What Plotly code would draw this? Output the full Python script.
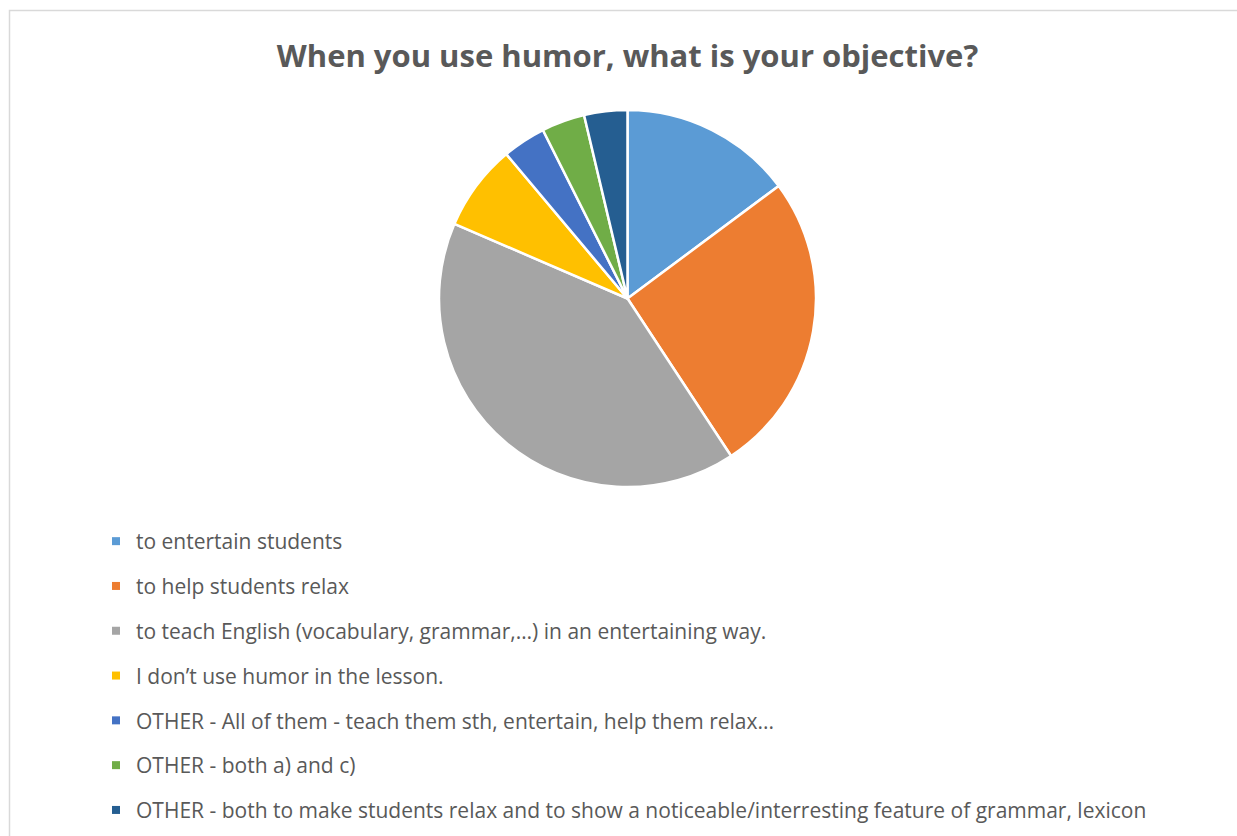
import plotly.graph_objects as go

# Survey answers and respondent counts
labels = [
    "to entertain students",
    "to help students relax",
    "to teach English (vocabulary, grammar,…) in an entertaining way.",
    "I don’t use humor in the lesson.",
    "OTHER - All of them - teach them sth, entertain, help them relax...",
    "OTHER - both a) and c)",
    "OTHER - both to make students relax and to show a noticeable/interresting feature of grammar, lexicon",
]
counts = [4, 7, 11, 2, 1, 1, 1]
colors = ["#5B9BD5", "#ED7D31", "#A5A5A5", "#FFC000", "#4472C4", "#70AD47", "#255E91"]

W, H = 1237, 836
TEXT = "#595959"
FONT = "Open Sans"

fig = go.Figure()

# Pie centred at (627.5, 298.5) px with radius ~188.5 px
cx, cy, r = 627.5, 298.5, 188.5
fig.add_trace(go.Pie(
    labels=labels,
    values=counts,
    sort=False,
    direction="clockwise",
    rotation=0,
    marker=dict(colors=colors, line=dict(color="white", width=2.5)),
    textinfo="none",
    hoverinfo="label+value+percent",
    showlegend=False,
    domain=dict(x=[(cx - r) / W, (cx + r) / W], y=[1 - (cy + r) / H, 1 - (cy - r) / H]),
))

# Legend entries, one group each so the rows are spaced apart
for i, (lab, col) in enumerate(zip(labels, colors)):
    fig.add_trace(go.Scatter(
        x=[None], y=[None], mode="markers", name=lab,
        marker=dict(symbol="square", size=8, color=col),
        legendgroup=f"g{i}", showlegend=True, hoverinfo="skip",
    ))

fig.add_shape(
    type="rect", xref="paper", yref="paper",
    x0=9.5 / W, x1=1.02, y0=-0.02, y1=1 - 10.5 / H,
    line=dict(color="#d9d9d9", width=1.5), fillcolor="rgba(0,0,0,0)", layer="below",
)

fig.update_layout(
    width=W, height=H,
    margin=dict(l=0, r=0, t=0, b=0),
    paper_bgcolor="white", plot_bgcolor="white",
    title=dict(
        text="<b>When you use humor, what is your objective?</b>",
        x=627.5 / W, xanchor="center", xref="paper",
        y=1 - 56 / H, yanchor="middle", yref="paper",
        font=dict(family=FONT, size=31, color=TEXT),
    ),
    xaxis=dict(visible=False),
    yaxis=dict(visible=False),
    legend=dict(
        x=96 / W, xanchor="left",
        y=1 - 521 / H, yanchor="top",
        font=dict(family=FONT, size=21, color=TEXT),
        tracegroupgap=14.5,
        bgcolor="rgba(0,0,0,0)",
        itemclick=False, itemdoubleclick=False,
    ),
    showlegend=True,
)

fig.write_html("out.html")
